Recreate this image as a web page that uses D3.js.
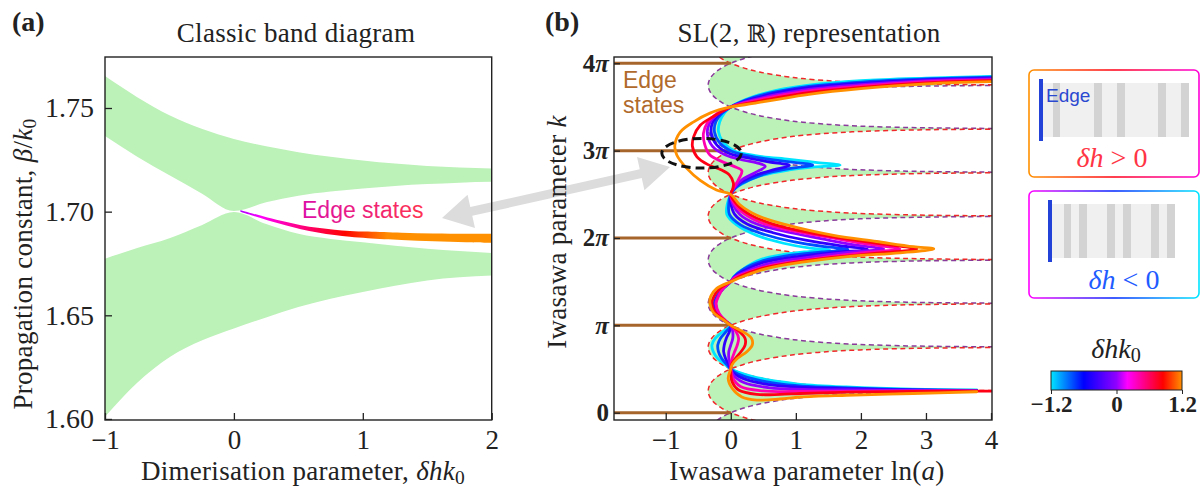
<!DOCTYPE html>
<html>
<head>
<meta charset="utf-8">
<script src="https://cdn.jsdelivr.net/npm/d3@7/dist/d3.min.js"></script>
<style>
  body { margin: 0; background: #fff; }
  svg text { font-family: "Liberation Serif", serif; fill: #222; }
</style>
</head>
<body>
<svg id="fig" width="1203" height="491"></svg>
<script>
// ---------- panel (a): band edges ----------
var bandX    = [-1, -0.75, -0.5, -0.25, 0, 0.25, 0.5, 0.75, 1, 1.25, 1.5, 1.75, 2];
var upperTop = [1.7654, 1.7552, 1.7465, 1.7400, 1.7350, 1.7315, 1.7287, 1.7265, 1.7247, 1.7232, 1.7220, 1.7213, 1.7208];
var upperBot = [1.7365, 1.7265, 1.7175, 1.7088, 1.7003, 1.7045, 1.7077, 1.7097, 1.7112, 1.7124, 1.7133, 1.7140, 1.7144];
var lowerTop = [1.6773, 1.6825, 1.6872, 1.6935, 1.6998, 1.6940, 1.6893, 1.6868, 1.6852, 1.6835, 1.6821, 1.6810, 1.6801];
var lowerBot = [1.6011, 1.6175, 1.6298, 1.6378, 1.6436, 1.6490, 1.6540, 1.6580, 1.6612, 1.6642, 1.6668, 1.6683, 1.6692];

// edge state branch
var edgeX    = [0.05, 0.15, 0.26, 0.4, 0.52, 0.65, 0.78, 0.9, 1.04, 1.3, 1.55, 1.8, 2.0];
var edgeBeta = [1.7003, 1.6985, 1.6965, 1.6943, 1.6925, 1.6911, 1.6900, 1.6893, 1.6888, 1.6881, 1.6876, 1.6873, 1.6872];

var yTicksA = [1.60, 1.65, 1.70, 1.75];
var xTicksA = [-1, 0, 1, 2];

// ---------- panel (b): SL(2,R) picture, k in units of pi ----------
// one half of a band-edge curve: offset from its centre (k/pi) vs ln(a)
var lobeDk  = [0, 0.05, 0.1, 0.15, 0.2, 0.25, 0.3, 0.35, 0.4, 0.425, 0.45, 0.465, 0.475, 0.485, 0.49, 0.495, 0.4965];
var lobeLnA = [-0.347, -0.334, -0.296, -0.231, -0.135, 0, 0.185, 0.443, 0.828, 1.108, 1.509, 1.863, 2.199, 2.709, 3.114, 3.807, 4.16];
var redCentres    = [0.25, 0.75, 2.25, 2.75, 4.25];
var purpleCentres = [-0.25, 1.25, 1.75, 3.25, 3.75];

var edgeLevels = [0, 1, 2, 3, 4];
var edgeValues = [-1.2, -0.8, -0.4, 0, 0.4, 0.8, 1.2];
var edgePaths = [
  [[4,3.85],[3,3.83],[2,3.80],[1.2,3.75],[0.7,3.69],[0.35,3.62],[0.12,3.55],[0,3.5],
   [-0.1,3.43],[-0.17,3.33],[-0.19,3.22],[-0.12,3.1],[0.05,3.0],[0.4,2.94],[0.9,2.9],[1.3,2.865],[1.68,2.835],[1.3,2.815],[0.9,2.78],[0.45,2.71],[0.15,2.61],[0.04,2.55],[0,2.5],
   [-0.05,2.4],[-0.06,2.27],[0.09,2.15],[0.4,2.03],[0.81,1.94],[1.22,1.885],[1.52,1.865],[1.2,1.845],[0.8,1.81],[0.45,1.75],[0.2,1.65],[0.05,1.56],[0,1.5],
   [-0.12,1.42],[-0.22,1.33],[-0.27,1.25],[-0.22,1.14],[-0.09,1.05],[0,1.0],
   [-0.12,0.93],[-0.24,0.85],[-0.29,0.775],[-0.27,0.7],[-0.2,0.62],[-0.08,0.55],[0,0.5],
   [0.09,0.47],[0.35,0.41],[0.76,0.355],[1.07,0.325],[1.78,0.295],[2.8,0.27],[3.78,0.26]],
  [[4,3.84],[3,3.82],[2,3.785],[1.2,3.735],[0.7,3.675],[0.35,3.61],[0.12,3.545],[0,3.5],
   [-0.13,3.43],[-0.23,3.33],[-0.25,3.21],[-0.17,3.09],[0.02,2.99],[0.35,2.93],[0.8,2.88],[1.26,2.835],[0.95,2.8],[0.6,2.75],[0.3,2.67],[0.1,2.59],[0,2.5],
   [-0.03,2.4],[-0.02,2.27],[0.15,2.15],[0.52,2.04],[0.98,1.955],[1.45,1.9],[1.8,1.87],[1.4,1.84],[0.9,1.8],[0.5,1.74],[0.2,1.645],[0.05,1.555],[0,1.5],
   [-0.12,1.42],[-0.21,1.33],[-0.255,1.25],[-0.21,1.14],[-0.09,1.05],[0,1.0],
   [-0.07,0.93],[-0.16,0.85],[-0.2,0.775],[-0.19,0.7],[-0.14,0.62],[-0.06,0.55],[0,0.5],
   [0.07,0.46],[0.3,0.395],[0.7,0.335],[1.1,0.305],[1.8,0.285],[2.8,0.265],[3.78,0.256]],
  [[4,3.83],[3,3.81],[2,3.77],[1.2,3.72],[0.7,3.66],[0.35,3.595],[0.12,3.54],[0,3.5],
   [-0.16,3.43],[-0.28,3.32],[-0.3,3.2],[-0.22,3.07],[-0.03,2.97],[0.3,2.91],[0.6,2.87],[0.9,2.83],[0.65,2.78],[0.35,2.71],[0.14,2.63],[0.04,2.56],[0,2.5],
   [0.0,2.4],[0.06,2.27],[0.25,2.16],[0.65,2.06],[1.15,1.975],[1.7,1.91],[2.1,1.87],[1.6,1.835],[1.0,1.785],[0.5,1.72],[0.2,1.625],[0.05,1.55],[0,1.5],
   [-0.12,1.42],[-0.2,1.33],[-0.245,1.25],[-0.2,1.14],[-0.085,1.05],[0,1.0],
   [-0.02,0.93],[-0.07,0.85],[-0.1,0.775],[-0.11,0.7],[-0.08,0.62],[-0.03,0.55],[0,0.5],
   [0.05,0.45],[0.25,0.375],[0.65,0.315],[1.1,0.29],[1.8,0.275],[2.8,0.26],[3.78,0.253]],
  [[4,3.82],[3,3.80],[2,3.755],[1.2,3.70],[0.7,3.64],[0.35,3.58],[0.12,3.535],[0,3.5],
   [-0.2,3.42],[-0.33,3.31],[-0.36,3.19],[-0.28,3.05],[-0.08,2.95],[0.2,2.89],[0.4,2.86],[0.53,2.82],[0.38,2.75],[0.18,2.67],[0.06,2.58],[0,2.5],
   [0.03,2.39],[0.14,2.27],[0.38,2.165],[0.8,2.08],[1.4,1.99],[1.9,1.92],[2.35,1.875],[1.8,1.835],[1.1,1.77],[0.55,1.7],[0.2,1.605],[0.05,1.545],[0,1.5],
   [-0.12,1.42],[-0.2,1.33],[-0.235,1.25],[-0.19,1.14],[-0.08,1.05],[0,1.0],
   [0.03,0.93],[0.03,0.85],[0.0,0.775],[-0.03,0.7],[-0.03,0.62],[-0.01,0.55],[0,0.5],
   [0.04,0.43],[0.2,0.345],[0.6,0.285],[1.1,0.268],[1.8,0.26],[2.8,0.255],[3.78,0.25]],
  [[4,3.81],[3,3.79],[2,3.74],[1.2,3.685],[0.7,3.625],[0.35,3.57],[0.12,3.53],[0,3.5],
   [-0.22,3.42],[-0.36,3.32],[-0.42,3.2],[-0.4,3.07],[-0.32,2.95],[-0.15,2.88],[0.05,2.82],[0.17,2.77],[0.12,2.67],[0.04,2.57],[0,2.5],
   [0.06,2.385],[0.22,2.27],[0.52,2.16],[1.0,2.075],[1.6,1.995],[2.1,1.93],[2.6,1.875],[2.0,1.83],[1.3,1.765],[0.6,1.685],[0.2,1.59],[0.05,1.54],[0,1.5],
   [-0.12,1.42],[-0.19,1.33],[-0.225,1.25],[-0.18,1.14],[-0.075,1.05],[0,1.0],
   [0.08,0.93],[0.12,0.85],[0.1,0.775],[0.06,0.7],[0.02,0.62],[0.0,0.55],[0,0.5],
   [0.03,0.4],[0.15,0.3],[0.5,0.25],[1.1,0.243],[1.8,0.245],[2.8,0.248],[3.78,0.248]],
  [[4,3.80],[3,3.775],[2,3.725],[1.2,3.665],[0.7,3.605],[0.35,3.555],[0.12,3.52],[0,3.5],
   [-0.27,3.39],[-0.47,3.29],[-0.57,3.16],[-0.59,3.05],[-0.52,2.93],[-0.35,2.84],[-0.15,2.78],[-0.02,2.72],[0.04,2.63],[0.03,2.56],[0,2.5],
   [0.1,2.38],[0.3,2.265],[0.66,2.155],[1.25,2.055],[1.95,1.97],[2.5,1.915],[2.86,1.875],[2.3,1.83],[1.5,1.772],[0.9,1.712],[0.45,1.645],[0.15,1.565],[0,1.5],
   [-0.17,1.42],[-0.26,1.33],[-0.29,1.25],[-0.24,1.15],[-0.1,1.06],[0,1.0],
   [0.13,0.93],[0.22,0.85],[0.22,0.775],[0.16,0.7],[0.07,0.62],[0.01,0.55],[0,0.5],
   [0.02,0.355],[0.12,0.26],[0.4,0.21],[0.76,0.21],[1.07,0.22],[1.8,0.235],[2.8,0.245],[4.0,0.248]],
  [[4,3.79],[3,3.765],[2,3.71],[1.2,3.645],[0.7,3.585],[0.35,3.54],[0.12,3.515],[0,3.5],
   [-0.32,3.43],[-0.57,3.33],[-0.78,3.21],[-0.86,3.06],[-0.83,2.95],[-0.68,2.8],[-0.47,2.66],[-0.22,2.55],[0,2.5],
   [0.14,2.38],[0.4,2.26],[0.86,2.15],[1.58,2.03],[2.24,1.96],[2.81,1.9],[3.12,1.875],[2.6,1.83],[1.83,1.79],[1.07,1.72],[0.55,1.65],[0.19,1.56],[0,1.5],
   [-0.22,1.42],[-0.31,1.33],[-0.32,1.25],[-0.27,1.15],[-0.11,1.06],[0,1.0],
   [0.18,0.93],[0.32,0.85],[0.33,0.775],[0.25,0.7],[0.1,0.62],[0.02,0.55],[0,0.5],
   [-0.04,0.39],[0.02,0.28],[0.17,0.18],[0.4,0.145],[0.76,0.157],[1.07,0.18],[1.78,0.2],[2.8,0.22],[3.78,0.24]]
];

var xTicksB = [-1, 0, 1, 2, 3, 4];
var yTicksB = [0, 1, 2, 3, 4];

// colour map
var colourStops = [-1.2, -0.6, 0, 0.2, 0.85, 1.2];
var colourHex   = ["#00e5ff", "#0000ff", "#9000ff", "#ff00ff", "#ff0000", "#ff9000"];
var cbTicks = [-1.2, 0, 1.2];

var GREEN = "#bcf2b8", BROWN = "#a6652b", PURPLE_D = "#8a3a9a", RED_D = "#f0282a";
var LABEL = "27px", LS = "0.3px";

var colour = d3.scaleLinear().domain(colourStops).range(colourHex).clamp(true);
var minus = function(d) { return d < 0 ? "\u2212" + Math.abs(d) : "" + d; };

var svg = d3.select("#fig");
var defs = svg.append("defs");

// ---------- linking arrow (behind everything) ----------
(function() {
  var p1 = [442, 218], p2 = [670, 167];
  var dx = p2[0] - p1[0], dy = p2[1] - p1[1], L = Math.sqrt(dx * dx + dy * dy);
  var u = [dx / L, dy / L], n = [-u[1], u[0]];
  var hl = 30, hw = 17, sw = 4.5;
  function pt(base, a, b) { return [base[0] + u[0] * a + n[0] * b, base[1] + u[1] * a + n[1] * b]; }
  var poly = [p1, pt(p1, hl, hw), pt(p1, hl, sw), pt(p2, -hl, sw), pt(p2, -hl, hw), p2,
              pt(p2, -hl, -hw), pt(p2, -hl, -sw), pt(p1, hl, -sw), pt(p1, hl, -hw)];
  svg.append("polygon").attr("points", poly.map(function(p) { return p.join(","); }).join(" "))
    .attr("fill", "#dcdcdc");
})();

function mathLabel(sel, parts) {
  parts.forEach(function(p) {
    var t = sel.append("tspan").text(p.t);
    if (p.i) t.style("font-style", "italic");
    if (p.sub) t.attr("dy", "0.2em").style("font-size", "0.72em");
  });
  return sel;
}

// ================= panel (a) =================
var A = { left: 105, right: 491.7, top: 57, bottom: 420 };
var xA = d3.scaleLinear().domain([-1, 2]).range([A.left, A.right]);
var yA = d3.scaleLinear().domain([1.5995, 1.7746]).range([A.bottom, A.top]);

var gA = svg.append("g");
defs.append("clipPath").attr("id", "clipA").append("rect")
  .attr("x", A.left).attr("y", A.top).attr("width", A.right - A.left).attr("height", A.bottom - A.top);
var plotA = gA.append("g").attr("clip-path", "url(#clipA)");

var bandArea = function(topArr, botArr) {
  return d3.area()
    .x(function(d, i) { return xA(bandX[i]); })
    .y0(function(d, i) { return yA(botArr[i]); })
    .y1(function(d, i) { return yA(topArr[i]); })
    .curve(d3.curveMonotoneX)(bandX);
};
plotA.append("path").attr("d", bandArea(upperTop, upperBot)).attr("fill", GREEN);
plotA.append("path").attr("d", bandArea(lowerTop, lowerBot)).attr("fill", GREEN);

// edge state branch: tapered, coloured by delta h k0
var gradE = defs.append("linearGradient").attr("id", "edgeGrad")
  .attr("gradientUnits", "userSpaceOnUse")
  .attr("x1", xA(edgeX[0])).attr("x2", xA(edgeX[edgeX.length - 1])).attr("y1", 0).attr("y2", 0);
d3.range(0, 13).forEach(function(s) {
  var v = edgeX[0] + s * (edgeX[edgeX.length - 1] - edgeX[0]) / 12;
  gradE.append("stop").attr("offset", s / 12).attr("stop-color", colour(v));
});
var halfW = function(i) { return 0.8 + 3.7 * i / (edgeX.length - 1); };
plotA.append("path")
  .attr("d", d3.area()
    .x(function(d, i) { return xA(edgeX[i]); })
    .y0(function(d, i) { return yA(edgeBeta[i]) - halfW(i); })
    .y1(function(d, i) { return yA(edgeBeta[i]) + halfW(i); })
    .curve(d3.curveCatmullRom)(edgeX))
  .attr("fill", "url(#edgeGrad)");

var gradT = defs.append("linearGradient").attr("id", "txtGrad")
  .attr("gradientUnits", "userSpaceOnUse").attr("x1", 302).attr("x2", 425).attr("y1", 0).attr("y2", 0);
gradT.append("stop").attr("offset", 0).attr("stop-color", "#dc0fa6");
gradT.append("stop").attr("offset", 1).attr("stop-color", "#ff3350");
gA.append("text").attr("x", 302).attr("y", 218)
  .style("font-family", "'Liberation Sans', Arial, sans-serif").style("font-size", "23px")
  .style("fill", "url(#txtGrad)").text("Edge states");

// axes (ticks inward)
var axA_y = gA.append("g").attr("transform", "translate(" + A.left + ",0)")
  .call(d3.axisLeft(yA).tickValues(yTicksA).tickFormat(d3.format(".2f")).tickSizeInner(-7).tickSizeOuter(0).tickPadding(11));
var axA_x = gA.append("g").attr("transform", "translate(0," + A.bottom + ")")
  .call(d3.axisBottom(xA).tickValues(xTicksA).tickFormat(minus).tickSizeInner(-7).tickSizeOuter(0).tickPadding(10));
[axA_y, axA_x].forEach(function(ax) {
  ax.select(".domain").remove();
  ax.selectAll("line").attr("stroke", "#222").attr("stroke-width", 1.3);
  ax.selectAll("text").style("font-size", "27px").attr("fill", "#222");
});
axA_y.selectAll("text").style("font-size", "28px");
gA.append("rect").attr("x", A.left).attr("y", A.top).attr("width", A.right - A.left).attr("height", A.bottom - A.top)
  .attr("fill", "none").attr("stroke", "#222").attr("stroke-width", 1.4);

svg.append("text").attr("x", 12).attr("y", 31).style("font-size", "28px").style("font-weight", "bold").text("(a)");
svg.append("text").attr("x", 296).attr("y", 42).attr("text-anchor", "middle").style("font-size", LABEL)
  .style("letter-spacing", LS).text("Classic band diagram");
mathLabel(svg.append("text").attr("text-anchor", "middle").style("font-size", LABEL).style("letter-spacing", LS)
  .attr("transform", "translate(32,264) rotate(-90)"),
  [{ t: "Propagation constant, " }, { t: "\u03b2", i: true }, { t: "/" }, { t: "k", i: true }, { t: "0", sub: true }]);
mathLabel(svg.append("text").attr("x", 303).attr("y", 480).attr("text-anchor", "middle").style("font-size", LABEL).style("letter-spacing", LS),
  [{ t: "Dimerisation parameter, " }, { t: "\u03b4hk", i: true }, { t: "0", sub: true }]);

// ================= panel (b) =================
var B = { left: 614, right: 992, top: 57, bottom: 420 };
var xB = d3.scaleLinear().domain([-1.795, 4.015]).range([B.left, B.right]);
var yB = d3.scaleLinear().domain([-0.0835, 4.072]).range([B.bottom, B.top]);

defs.append("clipPath").attr("id", "clipB").append("rect")
  .attr("x", B.left).attr("y", B.top).attr("width", B.right - B.left).attr("height", B.bottom - B.top);
var gB = svg.append("g");
var plotB = gB.append("g").attr("clip-path", "url(#clipB)");

var N = lobeDk.length, iz = lobeDk.indexOf(0.25);
function lobeCurve(c) {
  var pts = [];
  for (var j = N - 1; j > 0; j--) pts.push([lobeLnA[j], c - lobeDk[j]]);
  for (var j = 0; j < N; j++) pts.push([lobeLnA[j], c + lobeDk[j]]);
  return pts;
}
function bandRegion(c) {
  var pts = [], j;
  for (j = iz; j >= 0; j--) pts.push([lobeLnA[j], c + lobeDk[j]]);
  for (j = 1; j <= iz; j++) pts.push([lobeLnA[j], c - lobeDk[j]]);
  for (j = iz + 1; j < N; j++) pts.push([lobeLnA[j], c - 0.5 + lobeDk[j]]);
  for (j = N - 1; j > iz; j--) pts.push([lobeLnA[j], c + 0.5 - lobeDk[j]]);
  return pts;
}
var lineB = d3.line().x(function(d) { return xB(d[0]); }).y(function(d) { return yB(d[1]); })
  .curve(d3.curveCatmullRom.alpha(0.5));
var polyB = d3.line().x(function(d) { return xB(d[0]); }).y(function(d) { return yB(d[1]); })
  .curve(d3.curveCatmullRomClosed.alpha(0.5));

var allCentres = redCentres.concat(purpleCentres).sort(d3.ascending);
plotB.selectAll(".band").data(allCentres).enter().append("path")
  .attr("d", function(c) { return polyB(bandRegion(c)); })
  .attr("fill", GREEN);

var dashed = purpleCentres.map(function(c) { return { c: c, col: PURPLE_D }; })
  .concat(redCentres.map(function(c) { return { c: c, col: RED_D }; }));
plotB.selectAll(".edgeDash").data(dashed).enter().append("path")
  .attr("d", function(d) { return lineB(lobeCurve(d.c)); })
  .attr("fill", "none").attr("stroke", function(d) { return d.col; })
  .attr("stroke-width", 1.5).attr("stroke-dasharray", "5,3.5");

// edge state level lines
plotB.selectAll(".lvl").data(edgeLevels).enter().append("line")
  .attr("x1", B.left).attr("x2", xB(0))
  .attr("y1", function(k) { return yB(k); }).attr("y2", function(k) { return yB(k); })
  .attr("stroke", BROWN).attr("stroke-width", 3);

// edge trajectories coloured by delta h k0
plotB.selectAll(".traj").data(edgePaths).enter().append("path")
  .attr("d", function(d) { return lineB(d); })
  .attr("fill", "none")
  .attr("stroke", function(d, i) { return colour(edgeValues[i]); })
  .attr("stroke-width", 2.8).attr("stroke-linejoin", "round").attr("stroke-linecap", "round");

// highlighted crossing
plotB.append("ellipse")
  .attr("cx", xB(-0.45)).attr("cy", yB(2.97))
  .attr("rx", xB(0.16) - xB(-0.45)).attr("ry", yB(2.8) - yB(2.97))
  .attr("fill", "none").attr("stroke", "#111").attr("stroke-width", 3).attr("stroke-dasharray", "9,5");

gB.append("text").attr("x", 623).attr("y", 88)
  .style("font-family", "'Liberation Sans', Arial, sans-serif").style("font-size", "23px").style("fill", "#b06a2c")
  .text("Edge");
gB.append("text").attr("x", 623).attr("y", 113)
  .style("font-family", "'Liberation Sans', Arial, sans-serif").style("font-size", "23px").style("fill", "#b06a2c")
  .text("states");

var axB_y = gB.append("g").attr("transform", "translate(" + B.left + ",0)")
  .call(d3.axisLeft(yB).tickValues(yTicksB).tickSizeInner(-6).tickSizeOuter(0).tickPadding(5));
var axB_x = gB.append("g").attr("transform", "translate(0," + B.bottom + ")")
  .call(d3.axisBottom(xB).tickValues(xTicksB).tickFormat(minus).tickSizeInner(-7).tickSizeOuter(0).tickPadding(10));
[axB_y, axB_x].forEach(function(ax) {
  ax.select(".domain").remove();
  ax.selectAll("line").attr("stroke", "#222").attr("stroke-width", 1.3);
  ax.selectAll("text").style("font-size", "27px").attr("fill", "#222");
});
axB_y.selectAll("text").style("font-weight", "bold").style("font-size", "25px").each(function(k) {
  var t = d3.select(this).text(null);
  if (k === 0) { t.text("0"); return; }
  if (k > 1) t.append("tspan").text(k);
  t.append("tspan").style("font-style", "italic").text("\u03c0");
});
gB.append("rect").attr("x", B.left).attr("y", B.top).attr("width", B.right - B.left).attr("height", B.bottom - B.top)
  .attr("fill", "none").attr("stroke", "#222").attr("stroke-width", 1.4);

svg.append("text").attr("x", 545).attr("y", 31).style("font-size", "28px").style("font-weight", "bold").text("(b)");
var tb = svg.append("text").attr("x", 809).attr("y", 42).attr("text-anchor", "middle").style("font-size", LABEL).style("letter-spacing", LS);
tb.append("tspan").text("SL(2, ");
tb.append("tspan").style("font-family", "'DejaVu Serif', serif").style("font-size", "24px").text("\u211d");
tb.append("tspan").text(") representation");
mathLabel(svg.append("text").attr("text-anchor", "middle").style("font-size", LABEL).style("letter-spacing", LS)
  .attr("transform", "translate(566,232) rotate(-90)"),
  [{ t: "Iwasawa parameter " }, { t: "k", i: true }]);
mathLabel(svg.append("text").attr("x", 807).attr("y", 480).attr("text-anchor", "middle").style("font-size", LABEL).style("letter-spacing", LS),
  [{ t: "Iwasawa parameter ln(" }, { t: "a", i: true }, { t: ")" }]);

// ================= legend boxes =================
function boxGrad(id, cols) {
  var g = defs.append("linearGradient").attr("id", id);
  cols.forEach(function(c, i) { g.append("stop").attr("offset", i / (cols.length - 1)).attr("stop-color", c); });
}
boxGrad("box1", [colour(1.2), colour(0.8), colour(0.3)]);
boxGrad("box2", [colour(0.2), colour(-0.7), colour(-1.2)]);

var box1 = { x: 1029, y: 70, w: 170, h: 107 }, box2 = { x: 1029, y: 191, w: 170, h: 107 };
svg.append("rect").attr("x", box1.x).attr("y", box1.y).attr("width", box1.w).attr("height", box1.h)
  .attr("rx", 5).attr("fill", "#fff").attr("stroke", "url(#box1)").attr("stroke-width", 1.6);
svg.append("rect").attr("x", box2.x).attr("y", box2.y).attr("width", box2.w).attr("height", box2.h)
  .attr("rx", 5).attr("fill", "#fff").attr("stroke", "url(#box2)").attr("stroke-width", 1.6);

// schematic lattices
var lat1 = { x0: 1043, x1: 1189, y0: 83, y1: 137, stripes: [[1053, 1060], [1094, 1102], [1117, 1125], [1158, 1166], [1181, 1189]] };
var lat2 = { x0: 1052, x1: 1175, y0: 204, y1: 258, stripes: [[1064, 1071], [1079, 1087], [1107, 1115], [1123, 1131], [1151, 1159], [1167, 1175]] };
[lat1, lat2].forEach(function(l) {
  svg.append("rect").attr("x", l.x0).attr("y", l.y0).attr("width", l.x1 - l.x0).attr("height", l.y1 - l.y0).attr("fill", "#f0f0f0");
  l.stripes.forEach(function(s) {
    svg.append("rect").attr("x", s[0]).attr("y", l.y0).attr("width", s[1] - s[0]).attr("height", l.y1 - l.y0).attr("fill", "#d3d3d3");
  });
});
svg.append("rect").attr("x", 1039).attr("y", 79).attr("width", 4).attr("height", 62).attr("fill", "#2342d8");
svg.append("rect").attr("x", 1048).attr("y", 200).attr("width", 4).attr("height", 62).attr("fill", "#2342d8");
svg.append("text").attr("x", 1046).attr("y", 102)
  .style("font-family", "'Liberation Sans', Arial, sans-serif").style("font-size", "19px").style("fill", "#2a48d0").text("Edge");
mathLabel(svg.append("text").attr("x", 1112).attr("y", 167).attr("text-anchor", "middle").style("font-size", "28px").style("fill", "#ff3545"),
  [{ t: "\u03b4h", i: true }, { t: " > 0" }]);
mathLabel(svg.append("text").attr("x", 1124).attr("y", 289).attr("text-anchor", "middle").style("font-size", "28px").style("fill", "#1f5cff"),
  [{ t: "\u03b4h", i: true }, { t: " < 0" }]);

// ================= colour bar =================
var CB = { x0: 1051, x1: 1182, y0: 371, y1: 390 };
var cbScale = d3.scaleLinear().domain([-1.2, 1.2]).range([CB.x0, CB.x1]);
var cbGrad = defs.append("linearGradient").attr("id", "cbGrad");
colourStops.forEach(function(v, i) {
  cbGrad.append("stop").attr("offset", (v + 1.2) / 2.4).attr("stop-color", colourHex[i]);
});
svg.append("rect").attr("x", CB.x0).attr("y", CB.y0).attr("width", CB.x1 - CB.x0).attr("height", CB.y1 - CB.y0)
  .attr("fill", "url(#cbGrad)").attr("stroke", "#222").attr("stroke-width", 1);
var axCB = svg.append("g").attr("transform", "translate(0," + CB.y1 + ")")
  .call(d3.axisBottom(cbScale).tickValues(cbTicks).tickFormat(minus).tickSize(4).tickPadding(2));
axCB.select(".domain").remove();
axCB.selectAll("line").attr("stroke", "#222");
axCB.selectAll("text").style("font-size", "23px").style("font-weight", "bold").attr("fill", "#222");
mathLabel(svg.append("text").attr("x", 1116).attr("y", 358).attr("text-anchor", "middle").style("font-size", "28px"),
  [{ t: "\u03b4hk", i: true }, { t: "0", sub: true }]);
</script>
</body>
</html>
